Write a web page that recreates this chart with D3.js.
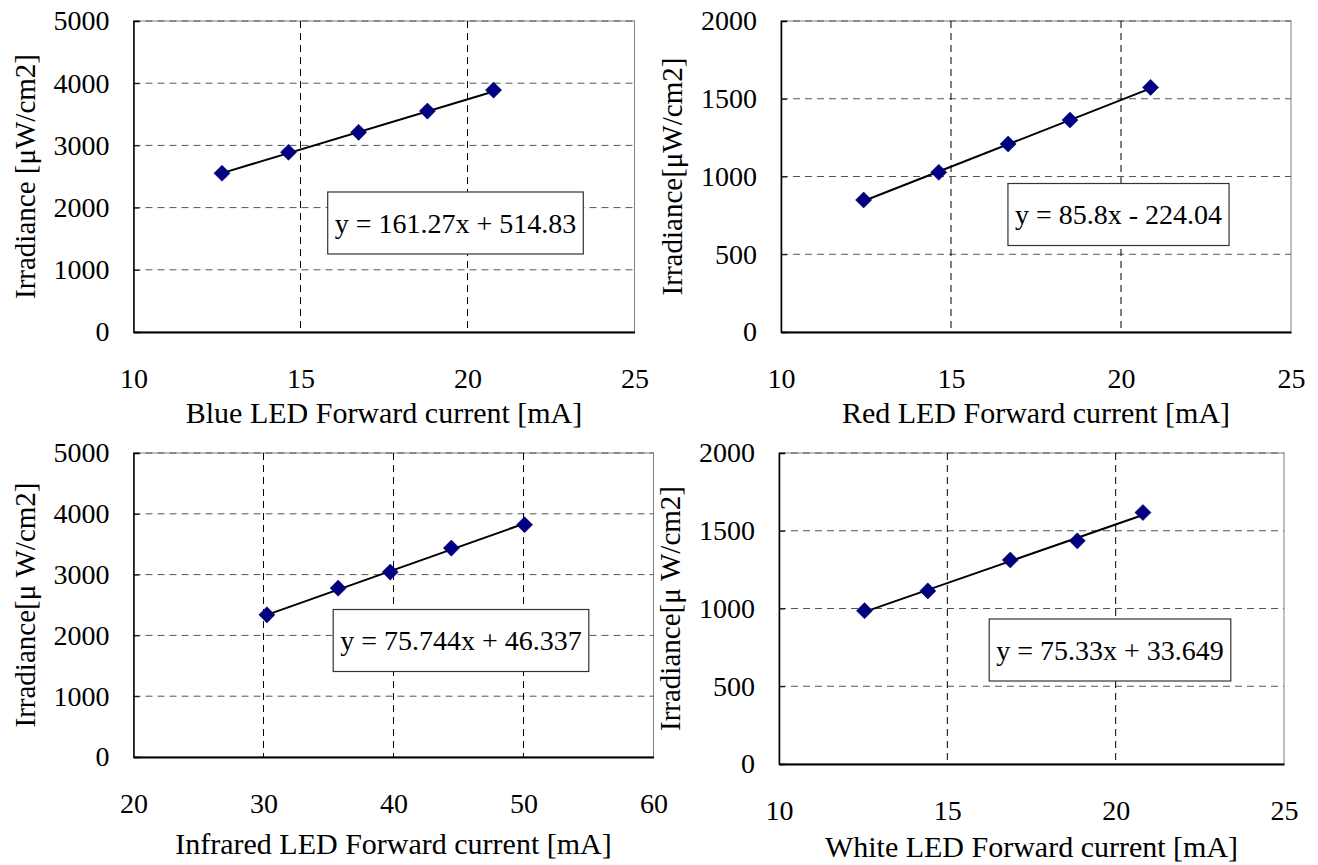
<!DOCTYPE html>
<head>
  <meta charset="utf-8">
  <script src="https://d3js.org/d3.v7.min.js"></script>
  <style>
    body { margin:0; background:#fff; }
    text { font-family: "Liberation Serif", "Times New Roman", serif; fill:#000; }
  </style>
</head>

<body>
  <script>

  var width = 1318;
  var height = 865;

  // data
  var panelNames = ["Blue", "Red", "Infrared", "White"];

  var blueCurrent = [12.65, 14.64, 16.74, 18.80, 20.78];
  var blueIrradiance = [2552, 2889, 3210, 3552, 3889];

  var redCurrent = [12.43, 14.64, 16.68, 18.50, 20.87];
  var redIrradiance = [849, 1027, 1209, 1363, 1573];

  var infraredCurrent = [30.26, 35.74, 39.75, 44.45, 50.08];
  var infraredIrradiance = [2338, 2777, 3041, 3436, 3820];

  var whiteCurrent = [12.54, 14.42, 16.87, 18.86, 20.81];
  var whiteIrradiance = [986, 1113, 1312, 1435, 1617];

  // trendline coefficients as printed in the boxes
  var slopes = [161.27, 85.8, 75.744, 75.33];
  var intercepts = [514.83, -224.04, 46.337, 33.649];
  var equations = ["y = 161.27x + 514.83", "y = 85.8x - 224.04", "y = 75.744x + 46.337", "y = 75.33x + 33.649"];

  var xDomains = [[10, 25], [10, 25], [20, 60], [10, 25]];
  var yDomains = [[0, 5000], [0, 2000], [0, 5000], [0, 2000]];
  var xTickValues = [[10, 15, 20, 25], [10, 15, 20, 25], [20, 30, 40, 50, 60], [10, 15, 20, 25]];
  var yTickValues = [[0, 1000, 2000, 3000, 4000, 5000], [0, 500, 1000, 1500, 2000],
                     [0, 1000, 2000, 3000, 4000, 5000], [0, 500, 1000, 1500, 2000]];

  var xTitles = ["Blue LED Forward current [mA]", "Red LED Forward current [mA]",
                 "Infrared LED Forward current [mA]", "White LED Forward current [mA]"];
  var yTitles = ["Irradiance [\u03bcW/cm2]", "Irradiance[\u03bcW/cm2]",
                 "Irradiance[\u03bc W/cm2]", "Irradiance[\u03bc W/cm2]"];

  var currents = [blueCurrent, redCurrent, infraredCurrent, whiteCurrent];
  var irradiances = [blueIrradiance, redIrradiance, infraredIrradiance, whiteIrradiance];

  // plot area of each panel (pixels), x title offset and centre of its equation box
  var plotBoxes = [
    {left: 133.5, right: 634.5, top: 21, bottom: 332, titleGap: 91},
    {left: 781, right: 1291, top: 21, bottom: 332, titleGap: 91},
    {left: 133.5, right: 653.5, top: 453, bottom: 757, titleGap: 97},
    {left: 779, right: 1284, top: 453, bottom: 764, titleGap: 93}
  ];
  var eqCentres = [[455.5, 223], [1118.5, 214.5], [461, 640.5], [1110, 650]];

  var tickFont = 28;
  var titleFont = 30;
  var yTitleFont = 29;

  var svg = d3.select("body").append("svg")
    .attr("width", width)
    .attr("height", height);

  for (var p = 0; p < panelNames.length; p++) {
    drawPanel(p);
  }

  function drawPanel(p) {
    var box = plotBoxes[p];
    var xScale = d3.scaleLinear().domain(xDomains[p]).range([box.left, box.right]);
    var yScale = d3.scaleLinear().domain(yDomains[p]).range([box.bottom, box.top]);

    var g = svg.append("g").attr("class", "panel-" + panelNames[p]);

    // plot area frame (grey), axis lines drawn later in black
    g.append("rect")
      .attr("x", box.left)
      .attr("y", box.top)
      .attr("width", box.right - box.left)
      .attr("height", box.bottom - box.top)
      .attr("fill", "#fff")
      .attr("stroke", "#808080")
      .attr("stroke-width", 1);

    // horizontal gridlines
    g.selectAll(".hgrid")
      .data(yTickValues[p].filter(function(v) { return v > yDomains[p][0]; }))
      .enter()
      .append("line")
      .attr("x1", box.left)
      .attr("x2", box.right)
      .attr("y1", function(v) { return yScale(v); })
      .attr("y2", function(v) { return yScale(v); })
      .attr("stroke", "#555")
      .attr("stroke-width", 1)
      .attr("stroke-dasharray", "7,5");

    // vertical gridlines
    g.selectAll(".vgrid")
      .data(xTickValues[p].filter(function(v) { return v > xDomains[p][0] && v < xDomains[p][1]; }))
      .enter()
      .append("line")
      .attr("x1", function(v) { return xScale(v); })
      .attr("x2", function(v) { return xScale(v); })
      .attr("y1", box.top)
      .attr("y2", box.bottom)
      .attr("stroke", "#000")
      .attr("stroke-width", 1)
      .attr("stroke-dasharray", "7,5");

    // y axis
    var axisY = d3.axisLeft(yScale)
      .tickValues(yTickValues[p])
      .tickFormat(d3.format("d"))
      .tickSize(-6)
      .tickPadding(24);
    var yAxisG = g.append("g")
      .attr("transform", "translate(" + box.left + ",0)")
      .call(axisY);
    yAxisG.select(".domain").attr("stroke", "#000").attr("stroke-width", 1.5);
    yAxisG.selectAll("text")
      .style("font-family", "'Liberation Serif', 'Times New Roman', serif")
      .style("font-size", tickFont + "px")
      .attr("fill", "#000");

    // x axis
    var axisX = d3.axisBottom(xScale)
      .tickValues(xTickValues[p])
      .tickFormat(d3.format("d"))
      .tickSize(0)
      .tickPadding(0);
    var xAxisG = g.append("g")
      .attr("transform", "translate(0," + box.bottom + ")")
      .call(axisX);
    xAxisG.select(".domain").attr("stroke", "#000").attr("stroke-width", 2);
    xAxisG.selectAll("text")
      .attr("y", 56)
      .attr("dy", null)
      .style("font-family", "'Liberation Serif', 'Times New Roman', serif")
      .style("font-size", tickFont + "px")
      .attr("fill", "#000");

    // axis titles
    g.append("text")
      .attr("x", (box.left + box.right) / 2)
      .attr("y", box.bottom + box.titleGap)
      .attr("text-anchor", "middle")
      .style("font-size", titleFont + "px")
      .text(xTitles[p]);

    g.append("text")
      .attr("transform", "translate(" + (box.left - 99) + "," + ((box.top + box.bottom) / 2) + ") rotate(-90)")
      .attr("text-anchor", "middle")
      .style("font-size", yTitleFont + "px")
      .text(yTitles[p]);

    // linear trendline across the measured range
    var xs = currents[p];
    var ys = irradiances[p];
    var xMin = d3.min(xs);
    var xMax = d3.max(xs);
    g.append("line")
      .attr("x1", xScale(xMin))
      .attr("y1", yScale(slopes[p] * xMin + intercepts[p]))
      .attr("x2", xScale(xMax))
      .attr("y2", yScale(slopes[p] * xMax + intercepts[p]))
      .attr("stroke", "#000")
      .attr("stroke-width", 2);

    // diamond markers
    var diamond = d3.symbol().type(d3.symbolSquare).size(130);
    g.selectAll(".marker")
      .data(d3.range(xs.length))
      .enter()
      .append("path")
      .attr("d", diamond)
      .attr("transform", function(i) {
        return "translate(" + xScale(xs[i]) + "," + yScale(ys[i]) + ") rotate(45)";
      })
      .attr("fill", "#000080")
      .attr("stroke", "#000066")
      .attr("stroke-width", 0.5);

    // equation box
    var eq = g.append("g")
      .attr("transform", "translate(" + eqCentres[p][0] + "," + eqCentres[p][1] + ")");
    var eqRect = eq.append("rect")
      .attr("fill", "#fff")
      .attr("stroke", "#333")
      .attr("stroke-width", 1.2);
    var eqText = eq.append("text")
      .attr("text-anchor", "middle")
      .attr("dy", "0.35em")
      .style("font-size", tickFont + "px")
      .text(equations[p]);
    var tw = eqText.node().getComputedTextLength() + 14;
    eqRect.attr("x", -tw / 2).attr("y", -31).attr("width", tw).attr("height", 62);
  }

  </script>
</body>
